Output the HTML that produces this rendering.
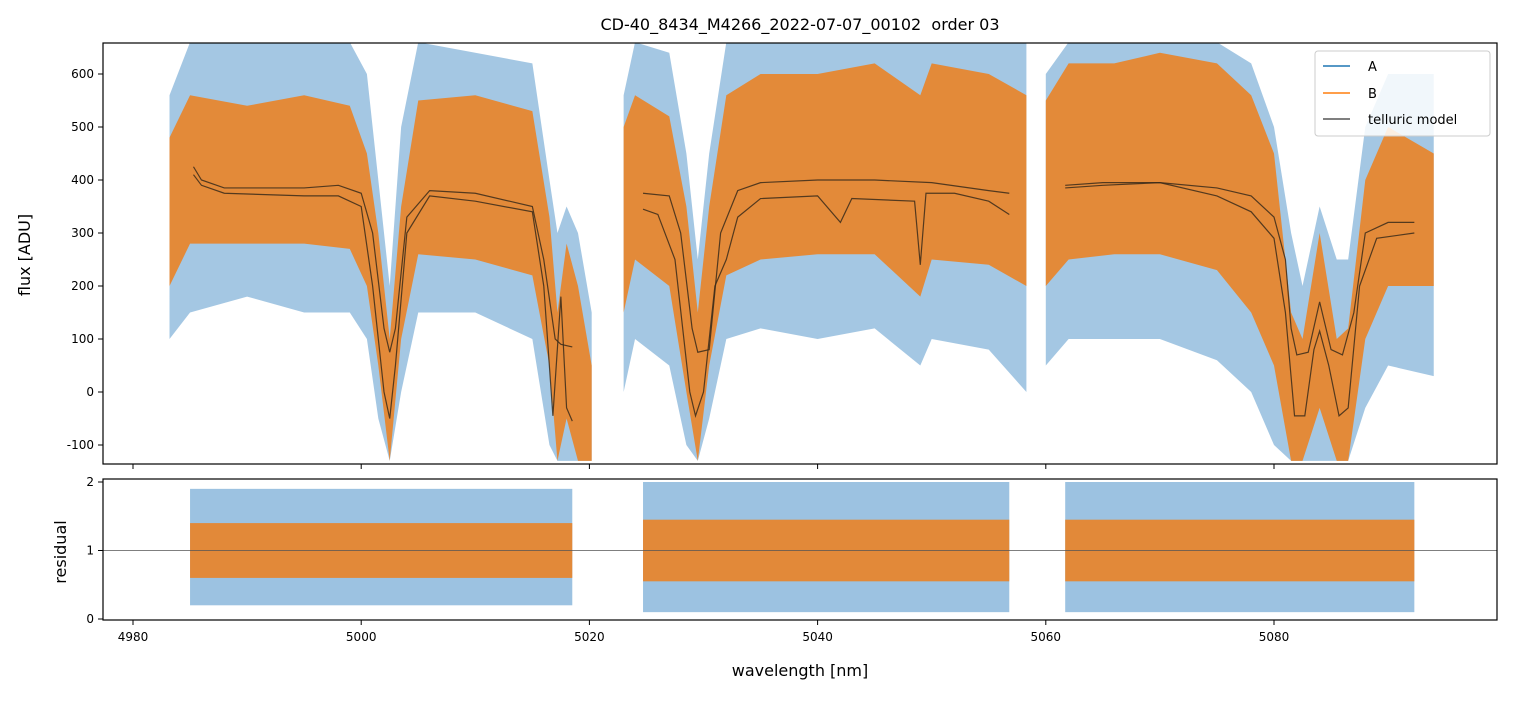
<!DOCTYPE html>
<html><head><meta charset="utf-8">
<style>
body{margin:0;background:#fff;font-family:"Liberation Sans","DejaVu Sans",sans-serif;}
svg text{font-family:"DejaVu Sans","Liberation Sans",sans-serif;}
</style></head>
<body>
<svg id="chart" width="1513" height="696" xmlns="http://www.w3.org/2000/svg">
<defs>
<clipPath id="ctop"><rect x="103" y="43" width="1394" height="421"/></clipPath>
<clipPath id="cres"><rect x="103" y="479" width="1394" height="141"/></clipPath>
</defs>
<text x="800" y="30" font-size="16" text-anchor="middle">CD-40_8434_M4266_2022-07-07_00102 &#160;order 03</text>
<g id="gtop" clip-path="url(#ctop)"></g>
<g id="gres" clip-path="url(#cres)"></g>
<rect x="103" y="43" width="1394" height="421" fill="none" stroke="#000" stroke-width="1.2"/>
<rect x="103" y="479" width="1394" height="141" fill="none" stroke="#000" stroke-width="1.2"/>
<g id="gaxes"></g>
<text transform="translate(30,255) rotate(-90)" font-size="16" text-anchor="middle">flux [ADU]</text>
<text transform="translate(66,552) rotate(-90)" font-size="16" text-anchor="middle">residual</text>
<text x="800" y="676" font-size="16" text-anchor="middle">wavelength [nm]</text>
<g>
<rect x="1315" y="51" width="175" height="85" rx="3" fill="#fff" fill-opacity="0.85" stroke="#ccc"/>
<line x1="1323" y1="66" x2="1350" y2="66" stroke="#1f77b4" stroke-width="1.5"/>
<text x="1368" y="71" font-size="13">A</text>
<line x1="1323" y1="93" x2="1350" y2="93" stroke="#ff7f0e" stroke-width="1.5"/>
<text x="1368" y="98" font-size="13">B</text>
<line x1="1323" y1="119" x2="1350" y2="119" stroke="#555" stroke-width="1.5"/>
<text x="1368" y="124" font-size="13">telluric model</text>
</g>
</svg>
<script>
// ---- data ----
const seg1Wl=[4983.2,4985,4990,4995,4999,5000.5,5001.5,5002.5,5003.5,5005,5010,5015,5016.5,5017.2,5018,5019,5020.2];
const seg1BUp=[480,560,540,560,540,450,300,100,350,550,560,530,330,150,280,200,50];
const seg1BLo=[200,280,280,280,270,200,50,-130,100,260,250,220,50,-130,-50,-130,-130];
const seg1AUp=[560,660,660,660,660,600,400,200,500,660,640,620,400,300,350,300,150];
const seg1ALo=[100,150,180,150,150,100,-50,-130,0,150,150,100,-100,-130,-130,-130,-130];
const seg2Wl=[5023,5024,5027,5028.5,5029.5,5030.5,5032,5035,5040,5045,5049,5050,5055,5058.3];
const seg2BUp=[500,560,520,350,150,350,560,600,600,620,560,620,600,560];
const seg2BLo=[150,250,200,0,-130,50,220,250,260,260,180,250,240,200];
const seg2AUp=[560,660,640,450,250,450,660,660,660,660,660,660,660,660];
const seg2ALo=[0,100,50,-100,-130,-50,100,120,100,120,50,100,80,0];
const seg3Wl=[5060,5062,5066,5070,5075,5078,5080,5081.5,5082.5,5084,5085.5,5086.5,5088,5090,5094];
const seg3BUp=[550,620,620,640,620,560,450,150,100,300,100,120,400,500,450];
const seg3BLo=[200,250,260,260,230,150,50,-130,-130,-30,-130,-130,100,200,200];
const seg3AUp=[600,660,660,660,660,620,500,300,200,350,250,250,500,600,600];
const seg3ALo=[50,100,100,100,60,0,-100,-130,-130,-130,-130,-130,-30,50,30];
const m1Wl=[4985.3,4986,4988,4995,4998,5000,5001,5002,5002.5,5003,5004,5006,5010,5013,5015,5016,5017,5017.5,5018.5,null,
 5024.7,5027,5028,5029,5029.5,5030.5,5031.5,5033,5035,5040,5045,5050,5055,5056.8,null,
 5061.7,5065,5070,5075,5078,5080,5081,5081.5,5082,5083,5084,5085,5086,5087,5088,5090,5092.3];
const m1Val=[425,400,385,385,390,375,300,120,75,120,330,380,375,360,350,250,100,90,85,null,
 375,370,300,120,75,80,300,380,395,400,400,395,380,375,null,
 390,395,395,385,370,330,250,120,70,75,170,80,70,150,300,320,320];
const m2Wl=[4985.3,4986,4988,4995,4998,5000,5001,5002,5002.5,5003,5004,5006,5010,5015,5016,5016.8,5017.5,5018,5018.5,null,
 5024.7,5026,5027.5,5028.8,5029.3,5030,5031,5032,5033,5035,5040,5042,5043,5048.5,5049,5049.5,5052,5055,5056.8,null,
 5061.7,5065,5070,5075,5078,5080,5081,5081.8,5082.7,5083.5,5084,5084.8,5085.7,5086.5,5087.5,5089,5092.3];
const m2Val=[410,390,375,370,370,350,200,0,-50,50,300,370,360,340,200,-45,180,-30,-55,null,
 345,335,250,0,-45,0,200,250,330,365,370,320,365,360,240,375,375,360,335,null,
 385,390,395,370,340,290,150,-45,-45,80,115,50,-45,-30,200,290,300];
const resSegs=[[4985,5018.5],[5024.7,5056.8],[5061.7,5092.3]];
const resAUp=[1.9,2.0,2.0];
const resALo=[0.2,0.1,0.1];
const resBUp=[1.4,1.45,1.45];
const resBLo=[0.6,0.55,0.55];
const xTicks=[4980,5000,5020,5040,5060,5080];
const yTicksTop=[-100,0,100,200,300,400,500,600];
const yTicksRes=[0,1,2];
// ---- axes ----
const X=w=>133+(w-4980)*11.41;
const Y=v=>392-v*0.53;
const YR=v=>619-v*68.5;
const NS="http://www.w3.org/2000/svg";
function mk(tag,attrs,parent){const e=document.createElementNS(NS,tag);for(const k in attrs)e.setAttribute(k,attrs[k]);parent.appendChild(e);return e;}
const gTop=document.getElementById('gtop'),gRes=document.getElementById('gres'),gAxes=document.getElementById('gaxes');
function band(wl,up,lo,color,op,name){
  let pts=wl.map((w,i)=>X(w)+','+Y(up[i]));
  for(let i=wl.length-1;i>=0;i--)pts.push(X(wl[i])+','+Y(lo[i]));
  const p=mk('polygon',{points:pts.join(' '),fill:color,'fill-opacity':op},gTop);
  
  
}
const segs=[[seg1Wl,seg1AUp,seg1ALo,seg1BUp,seg1BLo],[seg2Wl,seg2AUp,seg2ALo,seg2BUp,seg2BLo],[seg3Wl,seg3AUp,seg3ALo,seg3BUp,seg3BLo]];
segs.forEach((s,i)=>band(s[0],s[1],s[2],'#4a90c8',0.5,'series-a-segment-'+(i+1)));
segs.forEach((s,i)=>band(s[0],s[3],s[4],'#e8842a',0.92,'series-b-segment-'+(i+1)));
function modelLine(wl,val,name){
  let d='',pen='M';
  wl.forEach((w,i)=>{if(w===null){pen='M';return;}d+=pen+X(w)+' '+Y(val[i])+' ';pen='L';});
  const p=mk('path',{d:d,fill:'none',stroke:'#3a2a1a','stroke-width':1.2,'stroke-opacity':0.85},gTop);
  
  
}
modelLine(m1Wl,m1Val,'telluric-model-a');
modelLine(m2Wl,m2Val,'telluric-model-b');
resSegs.forEach((s,i)=>{
  const a=mk('rect',{x:X(s[0]),y:YR(resAUp[i]),width:X(s[1])-X(s[0]),height:YR(resALo[i])-YR(resAUp[i]),fill:'#4a90c8','fill-opacity':0.55},gRes);
  
  
  const b=mk('rect',{x:X(s[0]),y:YR(resBUp[i]),width:X(s[1])-X(s[0]),height:YR(resBLo[i])-YR(resBUp[i]),fill:'#e8842a','fill-opacity':0.92},gRes);
  
  
});
const ref=mk('line',{x1:103,x2:1497,y1:YR(1),y2:YR(1),stroke:'#555','stroke-width':0.8},gRes);


xTicks.forEach(t=>{
  mk('line',{x1:X(t),x2:X(t),y1:464,y2:469,stroke:'#000'},gAxes);
  mk('line',{x1:X(t),x2:X(t),y1:620,y2:625,stroke:'#000'},gAxes);
  const tx=mk('text',{x:X(t),y:641,'font-size':12,'text-anchor':'middle'},gAxes);tx.textContent=t;
  
  
});
yTicksTop.forEach(t=>{
  mk('line',{x1:98,x2:103,y1:Y(t),y2:Y(t),stroke:'#000'},gAxes);
  const tx=mk('text',{x:94,y:Y(t)+4,'font-size':12,'text-anchor':'end'},gAxes);tx.textContent=t;
  
  
});
yTicksRes.forEach(t=>{
  mk('line',{x1:98,x2:103,y1:YR(t),y2:YR(t),stroke:'#000'},gAxes);
  const tx=mk('text',{x:94,y:YR(t)+4,'font-size':12,'text-anchor':'end'},gAxes);tx.textContent=t;
  
  
});
</script>
</body></html>
